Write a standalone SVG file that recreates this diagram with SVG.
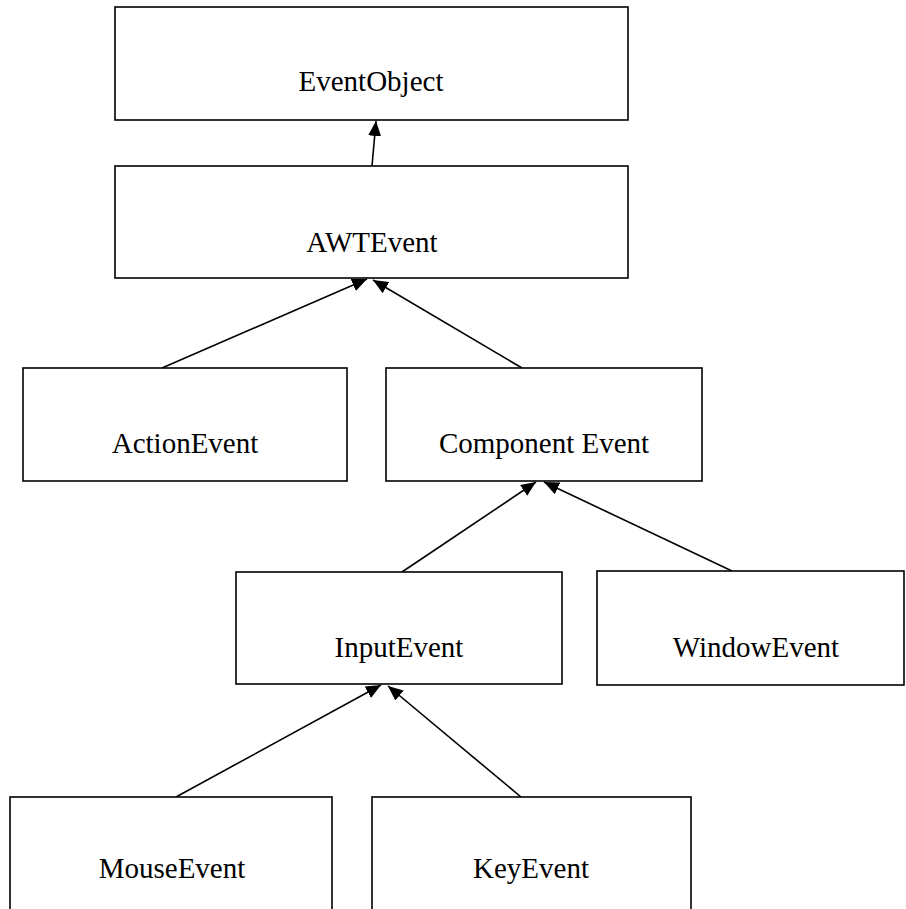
<svg xmlns="http://www.w3.org/2000/svg" width="906" height="909" viewBox="0 0 906 909">
<style>
.box{fill:#fff;stroke:#000;stroke-width:1.6}
.lbl{font-family:"Liberation Serif","Times New Roman",serif;font-size:29px;fill:#000;text-anchor:middle}
.edge{stroke:#000;stroke-width:1.6;fill:none;marker-end:url(#arr)}
</style>
<defs>
<marker id="arr" markerUnits="userSpaceOnUse" markerWidth="15" markerHeight="13" viewBox="0 0 15 13" refX="15" refY="6.5" orient="auto">
<path d="M0,0 L15,6.5 L0,13 z" fill="#000"/>
</marker>
</defs>
<rect width="906" height="909" fill="#fff"/>
<g id="connectors">
<line class="edge" x1="372" y1="166" x2="376" y2="121"/>
<line class="edge" x1="162" y1="368" x2="367" y2="279"/>
<line class="edge" x1="522" y1="368" x2="373" y2="280"/>
<line class="edge" x1="402" y1="572" x2="536" y2="482"/>
<line class="edge" x1="732" y1="571" x2="544" y2="482"/>
<line class="edge" x1="176" y1="797" x2="381" y2="685"/>
<line class="edge" x1="521" y1="797" x2="388" y2="686"/>
</g>
<g id="EventObject"><rect class="box" x="115" y="7" width="513" height="113"/><text class="lbl" x="371" y="91">EventObject</text></g>
<g id="AWTEvent"><rect class="box" x="115" y="166" width="513" height="112"/><text class="lbl" x="372" y="252">AWTEvent</text></g>
<g id="ActionEvent"><rect class="box" x="23" y="368" width="324" height="113"/><text class="lbl" x="185" y="453">ActionEvent</text></g>
<g id="ComponentEvent"><rect class="box" x="386" y="368" width="316" height="113"/><text class="lbl" x="544" y="453">Component Event</text></g>
<g id="InputEvent"><rect class="box" x="236" y="572" width="326" height="112"/><text class="lbl" x="399" y="657">InputEvent</text></g>
<g id="WindowEvent"><rect class="box" x="597" y="571" width="307" height="114"/><text class="lbl" x="756" y="657">WindowEvent</text></g>
<g id="MouseEvent"><rect class="box" x="10" y="797" width="322" height="130"/><text class="lbl" x="172" y="878">MouseEvent</text></g>
<g id="KeyEvent"><rect class="box" x="372" y="797" width="319" height="130"/><text class="lbl" x="531" y="878">KeyEvent</text></g>
</svg>
